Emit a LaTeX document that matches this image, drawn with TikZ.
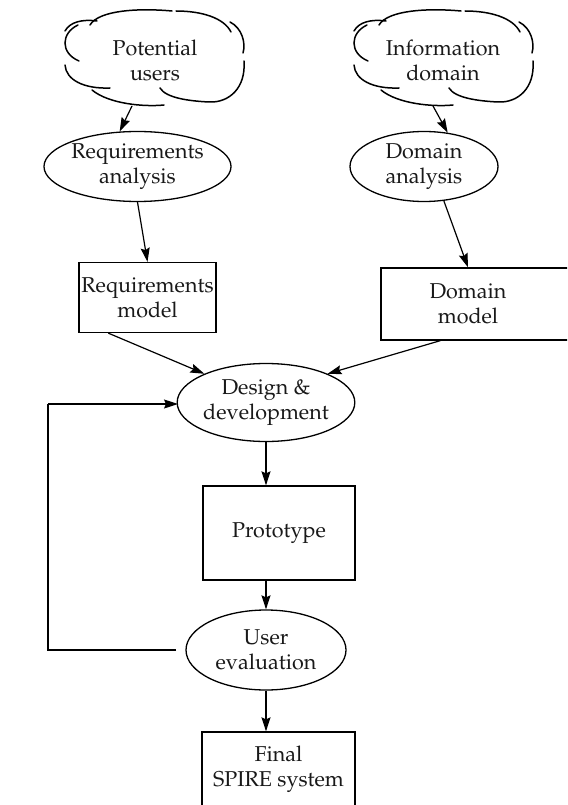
\documentclass[tikz,border=0pt]{standalone}
\usepackage[T1]{fontenc}
\renewcommand{\rmdefault}{ppl}
\usetikzlibrary{shapes.geometric,arrows.meta}
\newcommand{\mycloud}[2]{%
  \begin{scope}[shift={(#1,#2)}]
    \draw[cl] (-89,-27) .. controls (-84,-36) and (-72,-39) .. (-57,-37);
    \draw[cl] (-64,-33) .. controls (-55,-48) and (-15,-50) .. (18,-47);
    \draw[cl] (22,-47) .. controls (48,-47) and (70,-40) .. (77,-26);
    \draw[cl] (76,-36) .. controls (88,-30) and (92,-15) .. (89,-5);
    \draw[cl] (90,3) .. controls (92,30) and (75,45) .. (55,44) .. controls (35,43) and (12,40) .. (6,30);
    \draw[cl] (-62,32) .. controls (-45,46) and (-10,49) .. (10,47);
    \draw[cl] (-89,7) .. controls (-88,22) and (-70,31) .. (-44,30);
    \draw[cl] (-76,-33) .. controls (-93,-25) and (-94,-5) .. (-75,3);
  \end{scope}}
\begin{document}
\begin{tikzpicture}[x=1pt,y=-1pt,
  every node/.style={font=\fontsize{21.5}{25}\selectfont, align=center, text=black!90},
  cl/.style={line width=1.5pt, line cap=round},
  oval/.style={draw, ellipse, line width=1.3pt, inner sep=0pt},
  boxx/.style={draw, rectangle, line width=1.3pt, inner sep=0pt},
  arr/.style={line width=1.2pt, -{Stealth[length=14pt,width=9pt,inset=2pt]}},
  ln/.style={line width=1.3pt}]
\clip (0,0) rectangle (567,805);
\fill[white] (0,0) rectangle (567,805);

% clouds
\mycloud{154}{58}
\mycloud{443}{58}
\node (pu) at (155,60) {Potential\\users};
\node (id) at (443,60) {Information\\domain};
\coordinate (pub) at (132,106);
\coordinate (idb) at (433,106);

% analysis ellipses
\node[oval, minimum width=146, minimum height=70] (ra) at (137.5,166.5) {Requirements\\analysis};
\node[oval, minimum width=148, minimum height=70] (da) at (424,166.5) {Domain\\analysis};

% model boxes
\node[boxx, minimum width=137, minimum height=70] (rm) at (147.5,297.5) {Requirements\\model};
\node[boxx, minimum width=190, minimum height=72] (dm) at (476,304) {};
\node (dmt) at (468,304) {Domain\\model};

% design
\node[oval, minimum width=158, minimum height=78] (dd) at (266,402.5) {Design \&\\development};

% prototype
\node[boxx, minimum width=152, minimum height=94] (pr) at (279,533) {Prototype};

% user evaluation
\node[oval, minimum width=160, minimum height=80] (ue) at (266,650) {User\\evaluation};

% final
\node[boxx, minimum width=153, minimum height=100] (fs) at (278.5,782) {};
\node (fst) at (278.5,769) {Final\\SPIRE system};

% arrows
\draw[arr] (pub) -- (ra.117);
\draw[arr] (idb) -- (da.55);
\draw[arr] (ra.south) -- (rm.north);
\draw[arr] (da.-60) -- (dmt.north |- dm.north);
\draw[arr] (rm.south west) ++(30,0) coordinate (rmo) -- (dd.155);
\draw[arr] (dm.south west) ++(60,0) coordinate (dmo) -- (dd.25);
\draw[arr] (dd.south) -- (dd.south |- pr.north);
\draw[arr] (dd.south |- pr.south) -- (ue.north);
\draw[arr] (ue.south) -- (ue.south |- fs.north);

% feedback loop
\coordinate (fb1) at (176,650);
\coordinate (fb2) at (48,650);
\coordinate (fb3) at (48,404);
\coordinate (fb4) at (178,404);
\draw[ln] (fb1) -- (fb2) -- (fb3);
\draw[arr] (fb3) -- (fb4);
\end{tikzpicture}
\end{document}
